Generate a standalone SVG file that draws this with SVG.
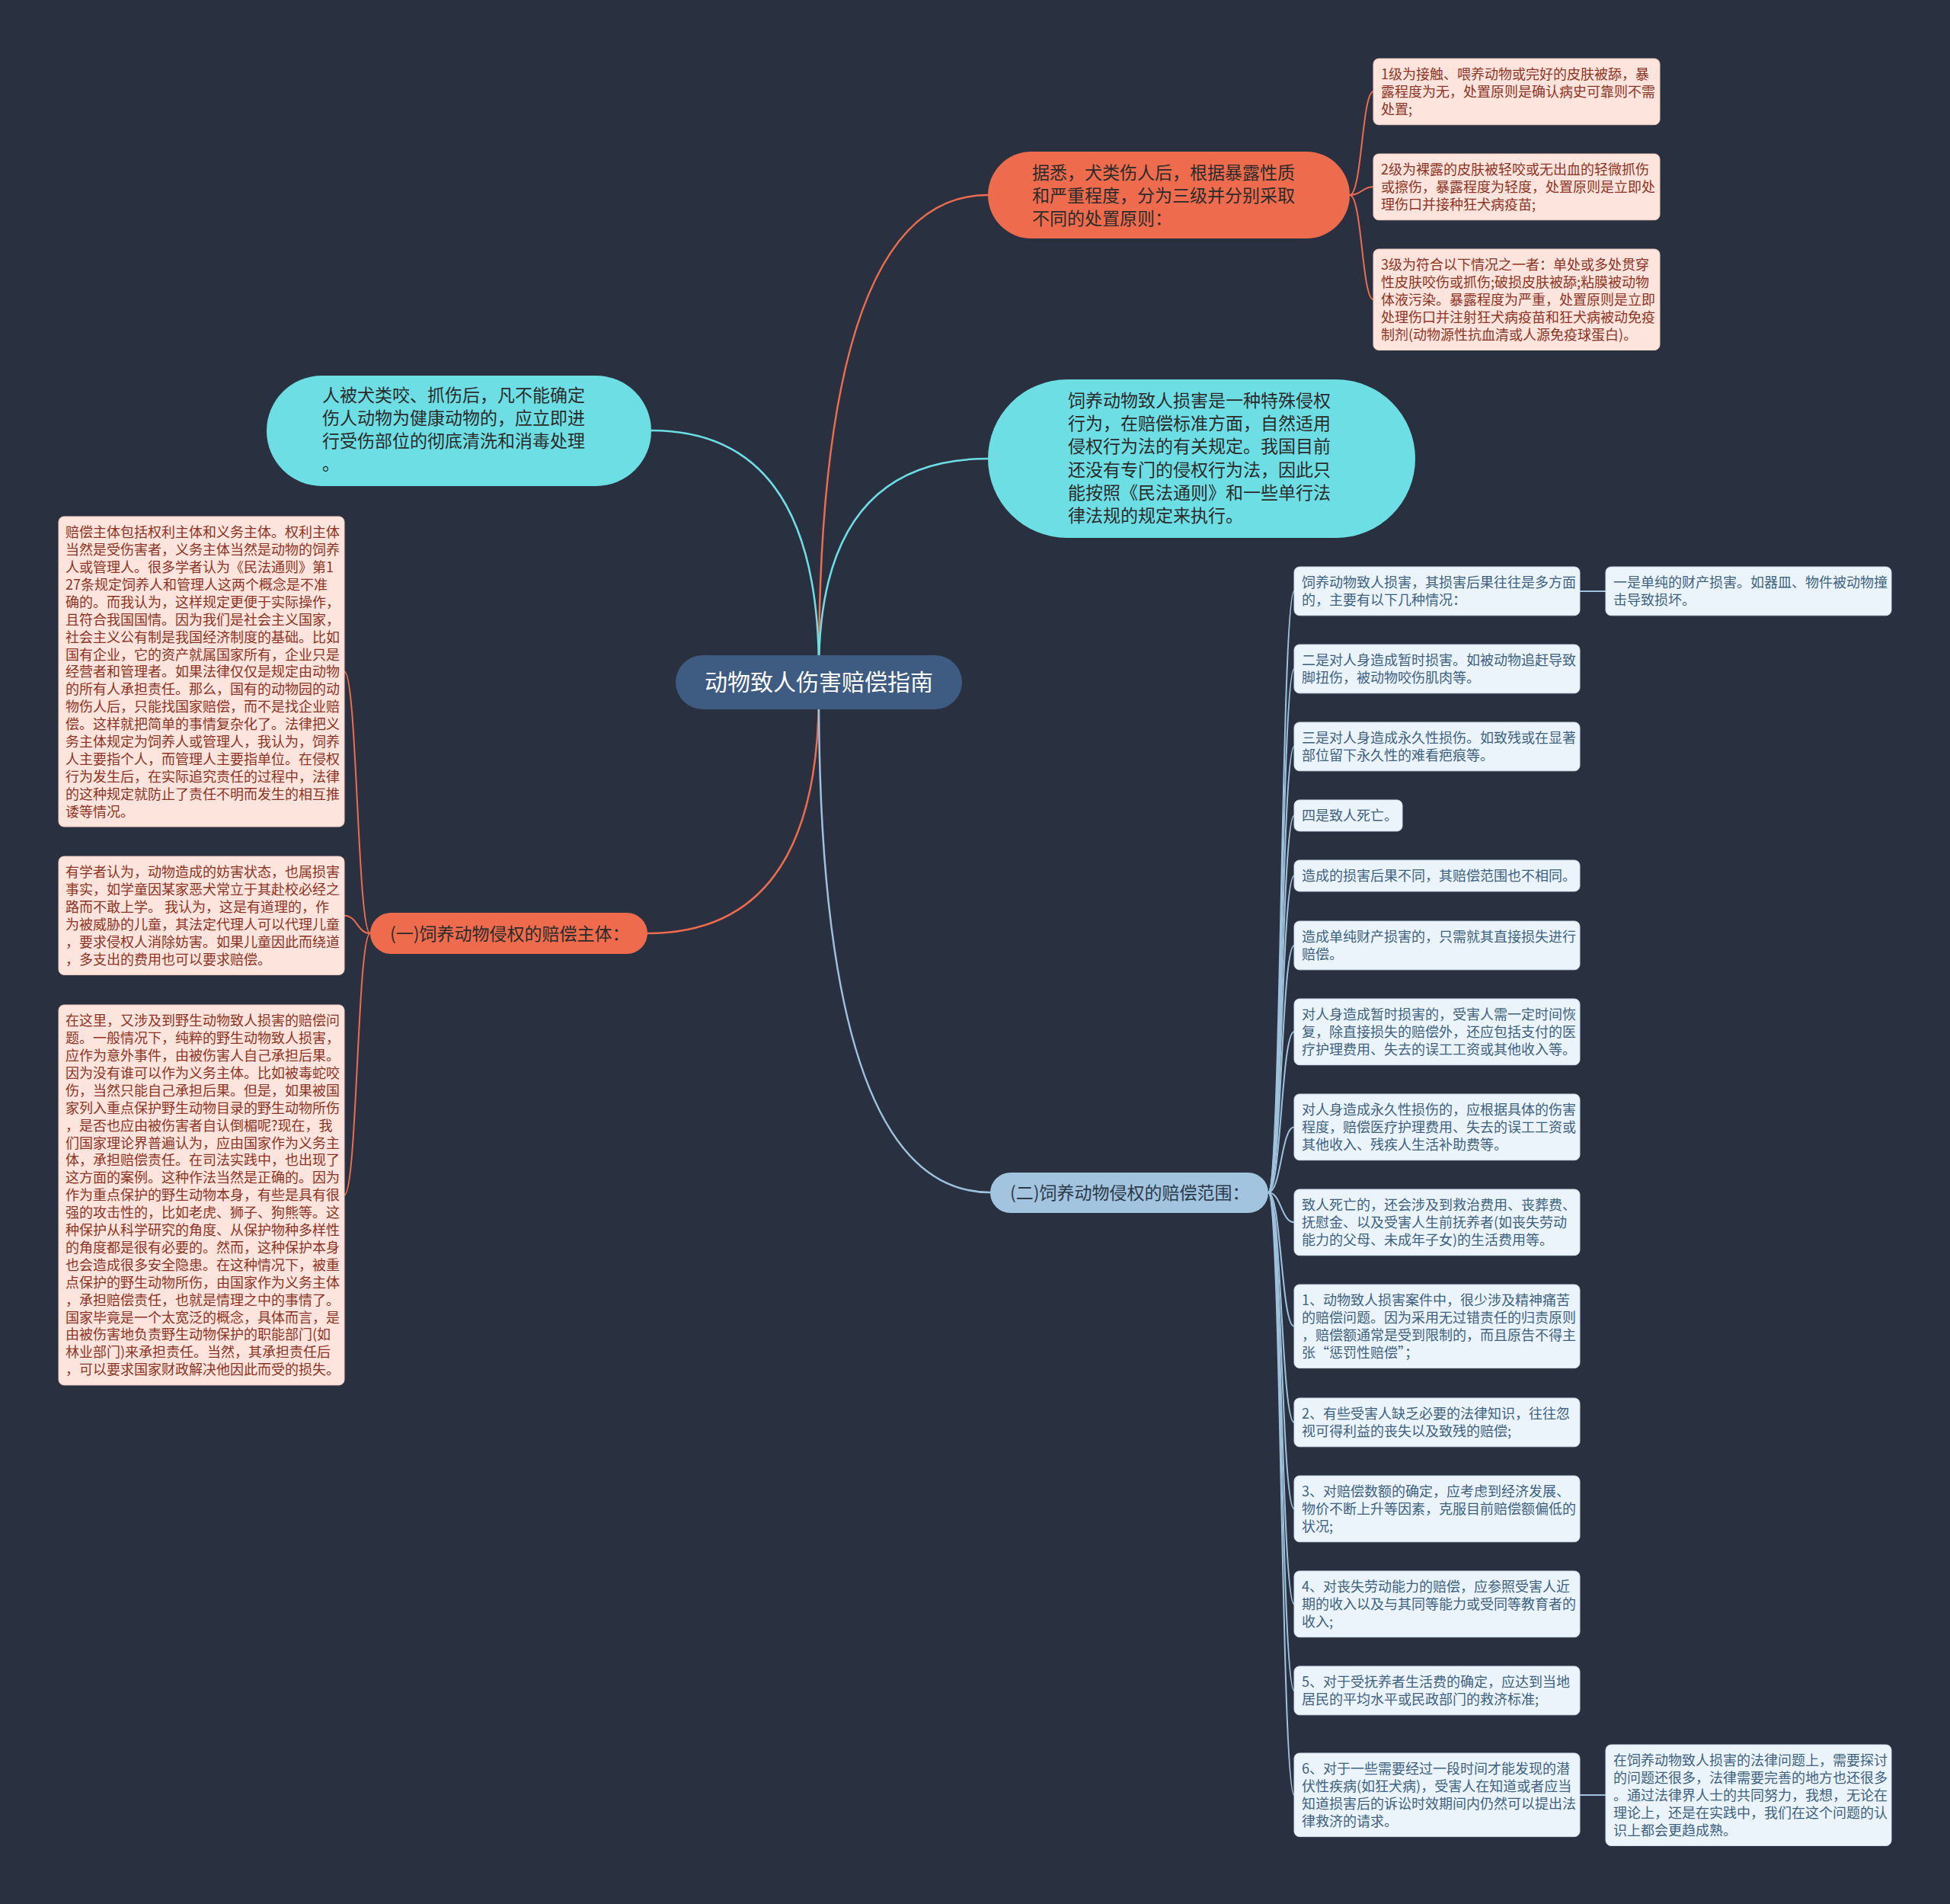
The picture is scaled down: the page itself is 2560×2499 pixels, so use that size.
<svg xmlns="http://www.w3.org/2000/svg" width="2560" height="2499" viewBox="0 0 2560 2499">
<style>
text{font-family:"Noto Sans CJK SC","Noto Sans",sans-serif;}
.bg{fill:#293140;}
.main{fill:none;stroke-width:2.5;}
.br{fill:none;stroke-width:2;}
.co{stroke:#ee6c4d;}
.cc{stroke:#6ddfe4;}
.cb{stroke:#9fc2dc;}
.root{fill:#3e5b82;}
.roott{fill:#ffffff;font-size:30px;}
.org{fill:#ee6c4d;}
.cyn{fill:#6ddfe4;}
.blu{fill:#a2c4de;}
.bigt{fill:#2b2b2b;font-size:23px;}
.pk{fill:#fde4dc;stroke:#f3cfc4;stroke-width:1;}
.pkt{fill:#8f3424;font-size:18px;}
.lb{fill:#ebf4fa;stroke:#cfe0ec;stroke-width:1;}
.lbt{fill:#3d6282;font-size:18px;}
</style>
<rect class="bg" x="0" y="0" width="2560" height="2499"/>
<g id="connectors">
<path class="main co" d="M1075 880 Q1075 256 1297 256"/>
<path class="main cc" d="M1075 880 Q1075 602 1297 602"/>
<path class="main cc" d="M1075 880 Q1075 565 855 565"/>
<path class="main co" d="M1075 910 Q1075 1225 850 1225"/>
<path class="main cb" d="M1075 910 Q1075 1565 1300 1565"/>
<path class="br co" d="M1772 256 C1788 256 1788 120.35 1803 120.35"/>
<path class="br co" d="M1772 256 C1788 256 1788 245.35 1803 245.35"/>
<path class="br co" d="M1772 256 C1788 256 1788 393.25 1803 393.25"/>
<path class="br co" d="M486 1225 C469 1225 469 881.5 452 881.5"/>
<path class="br co" d="M486 1225 C469 1225 469 1201.7 452 1201.7"/>
<path class="br co" d="M486 1225 C469 1225 469 1568.45 452 1568.45"/>
<path class="br cb" d="M1665 1565 C1682 1565 1682 775.9 1699 775.9"/>
<path class="br cb" d="M1665 1565 C1682 1565 1682 877.9 1699 877.9"/>
<path class="br cb" d="M1665 1565 C1682 1565 1682 979.9 1699 979.9"/>
<path class="br cb" d="M1665 1565 C1682 1565 1682 1070.45 1699 1070.45"/>
<path class="br cb" d="M1665 1565 C1682 1565 1682 1149.45 1699 1149.45"/>
<path class="br cb" d="M1665 1565 C1682 1565 1682 1240.9 1699 1240.9"/>
<path class="br cb" d="M1665 1565 C1682 1565 1682 1354.35 1699 1354.35"/>
<path class="br cb" d="M1665 1565 C1682 1565 1682 1479.35 1699 1479.35"/>
<path class="br cb" d="M1665 1565 C1682 1565 1682 1604.35 1699 1604.35"/>
<path class="br cb" d="M1665 1565 C1682 1565 1682 1740.8 1699 1740.8"/>
<path class="br cb" d="M1665 1565 C1682 1565 1682 1866.9 1699 1866.9"/>
<path class="br cb" d="M1665 1565 C1682 1565 1682 1980.35 1699 1980.35"/>
<path class="br cb" d="M1665 1565 C1682 1565 1682 2105.35 1699 2105.35"/>
<path class="br cb" d="M1665 1565 C1682 1565 1682 2218.9 1699 2218.9"/>
<path class="br cb" d="M1665 1565 C1682 1565 1682 2355.8 1699 2355.8"/>
<path class="br cb" d="M2074 775.9 L2108 775.9"/>
<path class="br cb" d="M2074 2356 L2108 2356"/>
</g>

<g id="root">
<rect class="root" x="887" y="860" width="376" height="71" rx="35.5"/>
<text class="roott" x="1075" y="906" text-anchor="middle">动物致人伤害赔偿指南</text>
</g>

<g id="n-grade">
<rect class="org" x="1297" y="199" width="475" height="114" rx="57"/>
<text class="bigt" x="1355"><tspan x="1355" y="235">据悉，犬类伤人后，根据暴露性质</tspan><tspan x="1355" y="265">和严重程度，分为三级并分别采取</tspan><tspan x="1355" y="295">不同的处置原则：</tspan></text>
</g>

<g id="n-grade1">
<rect class="pk" x="1803" y="77" width="376" height="86.7" rx="7"/>
<text class="pkt"><tspan x="1813" y="104.25">1级为接触、喂养动物或完好的皮肤被舔，暴</tspan><tspan x="1813" y="127.15">露程度为无，处置原则是确认病史可靠则不需</tspan><tspan x="1813" y="150.05">处置;</tspan></text>
</g>
<g id="n-grade2">
<rect class="pk" x="1803" y="202" width="376" height="86.7" rx="7"/>
<text class="pkt"><tspan x="1813" y="229.25">2级为裸露的皮肤被轻咬或无出血的轻微抓伤</tspan><tspan x="1813" y="252.15">或擦伤，暴露程度为轻度，处置原则是立即处</tspan><tspan x="1813" y="275.05">理伤口并接种狂犬病疫苗;</tspan></text>
</g>
<g id="n-grade3">
<rect class="pk" x="1803" y="327" width="376" height="132.5" rx="7"/>
<text class="pkt"><tspan x="1813" y="354.25">3级为符合以下情况之一者：单处或多处贯穿</tspan><tspan x="1813" y="377.15">性皮肤咬伤或抓伤;破损皮肤被舔;粘膜被动物</tspan><tspan x="1813" y="400.05">体液污染。暴露程度为严重，处置原则是立即</tspan><tspan x="1813" y="422.95">处理伤口并注射狂犬病疫苗和狂犬病被动免疫</tspan><tspan x="1813" y="445.85">制剂(动物源性抗血清或人源免疫球蛋白)。</tspan></text>
</g>

<g id="n-wash">
<rect class="cyn" x="350" y="493" width="505" height="145" rx="72.5"/>
<text class="bigt"><tspan x="423" y="527">人被犬类咬、抓伤后，凡不能确定</tspan><tspan x="423" y="557">伤人动物为健康动物的，应立即进</tspan><tspan x="423" y="587">行受伤部位的彻底清洗和消毒处理</tspan><tspan x="423" y="617">。</tspan></text>
</g>

<g id="n-special">
<rect class="cyn" x="1297" y="498" width="561" height="208" rx="104"/>
<text class="bigt"><tspan x="1402" y="534">饲养动物致人损害是一种特殊侵权</tspan><tspan x="1402" y="564.2">行为，在赔偿标准方面，自然适用</tspan><tspan x="1402" y="594.4">侵权行为法的有关规定。我国目前</tspan><tspan x="1402" y="624.6">还没有专门的侵权行为法，因此只</tspan><tspan x="1402" y="654.8">能按照《民法通则》和一些单行法</tspan><tspan x="1402" y="685">律法规的规定来执行。</tspan></text>
</g>

<g id="n-subject">
<rect class="org" x="486" y="1198" width="364" height="54" rx="27"/>
<text class="bigt" x="512" y="1234">(一)饲养动物侵权的赔偿主体：</text>
</g>

<g id="n-subject1">
<rect class="pk" x="77" y="678" width="375" height="407" rx="7"/>
<text class="pkt"><tspan x="86" y="705.25">赔偿主体包括权利主体和义务主体。权利主体</tspan><tspan x="86" y="728.15">当然是受伤害者，义务主体当然是动物的饲养</tspan><tspan x="86" y="751.05">人或管理人。很多学者认为《民法通则》第1</tspan><tspan x="86" y="773.95">27条规定饲养人和管理人这两个概念是不准</tspan><tspan x="86" y="796.85">确的。而我认为，这样规定更便于实际操作，</tspan><tspan x="86" y="819.75">且符合我国国情。因为我们是社会主义国家，</tspan><tspan x="86" y="842.65">社会主义公有制是我国经济制度的基础。比如</tspan><tspan x="86" y="865.55">国有企业，它的资产就属国家所有，企业只是</tspan><tspan x="86" y="888.45">经营者和管理者。如果法律仅仅是规定由动物</tspan><tspan x="86" y="911.35">的所有人承担责任。那么，国有的动物园的动</tspan><tspan x="86" y="934.25">物伤人后，只能找国家赔偿，而不是找企业赔</tspan><tspan x="86" y="957.15">偿。这样就把简单的事情复杂化了。法律把义</tspan><tspan x="86" y="980.05">务主体规定为饲养人或管理人，我认为，饲养</tspan><tspan x="86" y="1002.95">人主要指个人，而管理人主要指单位。在侵权</tspan><tspan x="86" y="1025.85">行为发生后，在实际追究责任的过程中，法律</tspan><tspan x="86" y="1048.75">的这种规定就防止了责任不明而发生的相互推</tspan><tspan x="86" y="1071.65">诿等情况。</tspan></text>
</g>

<g id="n-subject2">
<rect class="pk" x="77" y="1124" width="375" height="155.4" rx="7"/>
<text class="pkt"><tspan x="86" y="1151.25">有学者认为，动物造成的妨害状态，也属损害</tspan><tspan x="86" y="1174.15">事实，如学童因某家恶犬常立于其赴校必经之</tspan><tspan x="86" y="1197.05">路而不敢上学。 我认为，这是有道理的，作</tspan><tspan x="86" y="1219.95">为被威胁的儿童，其法定代理人可以代理儿童</tspan><tspan x="86" y="1242.85">，要求侵权人消除妨害。如果儿童因此而绕道</tspan><tspan x="86" y="1265.75">，多支出的费用也可以要求赔偿。</tspan></text>
</g>

<g id="n-subject3">
<rect class="pk" x="77" y="1319" width="375" height="498.9" rx="7"/>
<text class="pkt"><tspan x="86" y="1346.25">在这里，又涉及到野生动物致人损害的赔偿问</tspan><tspan x="86" y="1369.15">题。一般情况下，纯粹的野生动物致人损害，</tspan><tspan x="86" y="1392.05">应作为意外事件，由被伤害人自己承担后果。</tspan><tspan x="86" y="1414.95">因为没有谁可以作为义务主体。比如被毒蛇咬</tspan><tspan x="86" y="1437.85">伤，当然只能自己承担后果。但是，如果被国</tspan><tspan x="86" y="1460.75">家列入重点保护野生动物目录的野生动物所伤</tspan><tspan x="86" y="1483.65">，是否也应由被伤害者自认倒楣呢?现在，我</tspan><tspan x="86" y="1506.55">们国家理论界普遍认为，应由国家作为义务主</tspan><tspan x="86" y="1529.45">体，承担赔偿责任。在司法实践中，也出现了</tspan><tspan x="86" y="1552.35">这方面的案例。这种作法当然是正确的。因为</tspan><tspan x="86" y="1575.25">作为重点保护的野生动物本身，有些是具有很</tspan><tspan x="86" y="1598.15">强的攻击性的，比如老虎、狮子、狗熊等。这</tspan><tspan x="86" y="1621.05">种保护从科学研究的角度、从保护物种多样性</tspan><tspan x="86" y="1643.95">的角度都是很有必要的。然而，这种保护本身</tspan><tspan x="86" y="1666.85">也会造成很多安全隐患。在这种情况下，被重</tspan><tspan x="86" y="1689.75">点保护的野生动物所伤，由国家作为义务主体</tspan><tspan x="86" y="1712.65">，承担赔偿责任，也就是情理之中的事情了。</tspan><tspan x="86" y="1735.55">国家毕竟是一个太宽泛的概念，具体而言，是</tspan><tspan x="86" y="1758.45">由被伤害地负责野生动物保护的职能部门(如</tspan><tspan x="86" y="1781.35">林业部门)来承担责任。当然，其承担责任后</tspan><tspan x="86" y="1804.25">，可以要求国家财政解决他因此而受的损失。</tspan></text>
</g>

<g id="n-scope">
<rect class="blu" x="1300" y="1539" width="365" height="53" rx="26.5"/>
<text class="bigt" x="1326" y="1574" style="fill:#2c3a4a">(二)饲养动物侵权的赔偿范围：</text>
</g>

<g id="n-a">
<rect class="lb" x="1699" y="744" width="375" height="63.8" rx="7"/>
<text class="lbt"><tspan x="1709" y="771.25">饲养动物致人损害，其损害后果往往是多方面</tspan><tspan x="1709" y="794.15">的，主要有以下几种情况：</tspan></text>
</g>
<g id="n-a1">
<rect class="lb" x="2108" y="744" width="375" height="63.8" rx="7"/>
<text class="lbt"><tspan x="2118" y="771.25">一是单纯的财产损害。如器皿、物件被动物撞</tspan><tspan x="2118" y="794.15">击导致损坏。</tspan></text>
</g>
<g id="n-b">
<rect class="lb" x="1699" y="846" width="375" height="63.8" rx="7"/>
<text class="lbt"><tspan x="1709" y="873.25">二是对人身造成暂时损害。如被动物追赶导致</tspan><tspan x="1709" y="896.15">脚扭伤，被动物咬伤肌肉等。</tspan></text>
</g>
<g id="n-c">
<rect class="lb" x="1699" y="948" width="375" height="63.8" rx="7"/>
<text class="lbt"><tspan x="1709" y="975.25">三是对人身造成永久性损伤。如致残或在显著</tspan><tspan x="1709" y="998.15">部位留下永久性的难看疤痕等。</tspan></text>
</g>
<g id="n-d">
<rect class="lb" x="1699" y="1050" width="142" height="40.9" rx="7"/>
<text class="lbt" x="1709" y="1077.25">四是致人死亡。</text>
</g>
<g id="n-e">
<rect class="lb" x="1699" y="1129" width="375" height="40.9" rx="7"/>
<text class="lbt" x="1709" y="1156.25">造成的损害后果不同，其赔偿范围也不相同。</text>
</g>
<g id="n-f">
<rect class="lb" x="1699" y="1209" width="375" height="63.8" rx="7"/>
<text class="lbt"><tspan x="1709" y="1236.25">造成单纯财产损害的，只需就其直接损失进行</tspan><tspan x="1709" y="1259.15">赔偿。</tspan></text>
</g>
<g id="n-g">
<rect class="lb" x="1699" y="1311" width="375" height="86.7" rx="7"/>
<text class="lbt"><tspan x="1709" y="1338.25">对人身造成暂时损害的，受害人需一定时间恢</tspan><tspan x="1709" y="1361.15">复，除直接损失的赔偿外，还应包括支付的医</tspan><tspan x="1709" y="1384.05">疗护理费用、失去的误工工资或其他收入等。</tspan></text>
</g>
<g id="n-h">
<rect class="lb" x="1699" y="1436" width="375" height="86.7" rx="7"/>
<text class="lbt"><tspan x="1709" y="1463.25">对人身造成永久性损伤的，应根据具体的伤害</tspan><tspan x="1709" y="1486.15">程度，赔偿医疗护理费用、失去的误工工资或</tspan><tspan x="1709" y="1509.05">其他收入、残疾人生活补助费等。</tspan></text>
</g>
<g id="n-i">
<rect class="lb" x="1699" y="1561" width="375" height="86.7" rx="7"/>
<text class="lbt"><tspan x="1709" y="1588.25">致人死亡的，还会涉及到救治费用、丧葬费、</tspan><tspan x="1709" y="1611.15">抚慰金、以及受害人生前抚养者(如丧失劳动</tspan><tspan x="1709" y="1634.05">能力的父母、未成年子女)的生活费用等。</tspan></text>
</g>
<g id="n-j">
<rect class="lb" x="1699" y="1686" width="375" height="109.6" rx="7"/>
<text class="lbt"><tspan x="1709" y="1713.25">1、动物致人损害案件中，很少涉及精神痛苦</tspan><tspan x="1709" y="1736.15">的赔偿问题。因为采用无过错责任的归责原则</tspan><tspan x="1709" y="1759.05">，赔偿额通常是受到限制的，而且原告不得主</tspan><tspan x="1709" y="1781.95">张“惩罚性赔偿”；</tspan></text>
</g>
<g id="n-k">
<rect class="lb" x="1699" y="1835" width="375" height="63.8" rx="7"/>
<text class="lbt"><tspan x="1709" y="1862.25">2、有些受害人缺乏必要的法律知识，往往忽</tspan><tspan x="1709" y="1885.15">视可得利益的丧失以及致残的赔偿;</tspan></text>
</g>
<g id="n-l">
<rect class="lb" x="1699" y="1937" width="375" height="86.7" rx="7"/>
<text class="lbt"><tspan x="1709" y="1964.25">3、对赔偿数额的确定，应考虑到经济发展、</tspan><tspan x="1709" y="1987.15">物价不断上升等因素，克服目前赔偿额偏低的</tspan><tspan x="1709" y="2010.05">状况;</tspan></text>
</g>
<g id="n-m">
<rect class="lb" x="1699" y="2062" width="375" height="86.7" rx="7"/>
<text class="lbt"><tspan x="1709" y="2089.25">4、对丧失劳动能力的赔偿，应参照受害人近</tspan><tspan x="1709" y="2112.15">期的收入以及与其同等能力或受同等教育者的</tspan><tspan x="1709" y="2135.05">收入;</tspan></text>
</g>
<g id="n-n">
<rect class="lb" x="1699" y="2187" width="375" height="63.8" rx="7"/>
<text class="lbt"><tspan x="1709" y="2214.25">5、对于受抚养者生活费的确定，应达到当地</tspan><tspan x="1709" y="2237.15">居民的平均水平或民政部门的救济标准;</tspan></text>
</g>
<g id="n-o">
<rect class="lb" x="1699" y="2301" width="375" height="109.6" rx="7"/>
<text class="lbt"><tspan x="1709" y="2328.25">6、对于一些需要经过一段时间才能发现的潜</tspan><tspan x="1709" y="2351.15">伏性疾病(如狂犬病)，受害人在知道或者应当</tspan><tspan x="1709" y="2374.05">知道损害后的诉讼时效期间内仍然可以提出法</tspan><tspan x="1709" y="2396.95">律救济的请求。</tspan></text>
</g>
<g id="n-p">
<rect class="lb" x="2108" y="2290" width="375" height="132.5" rx="7"/>
<text class="lbt"><tspan x="2118" y="2317.25">在饲养动物致人损害的法律问题上，需要探讨</tspan><tspan x="2118" y="2340.15">的问题还很多，法律需要完善的地方也还很多</tspan><tspan x="2118" y="2363.05">。通过法律界人士的共同努力，我想，无论在</tspan><tspan x="2118" y="2385.95">理论上，还是在实践中，我们在这个问题的认</tspan><tspan x="2118" y="2408.85">识上都会更趋成熟。</tspan></text>
</g>
</svg>
